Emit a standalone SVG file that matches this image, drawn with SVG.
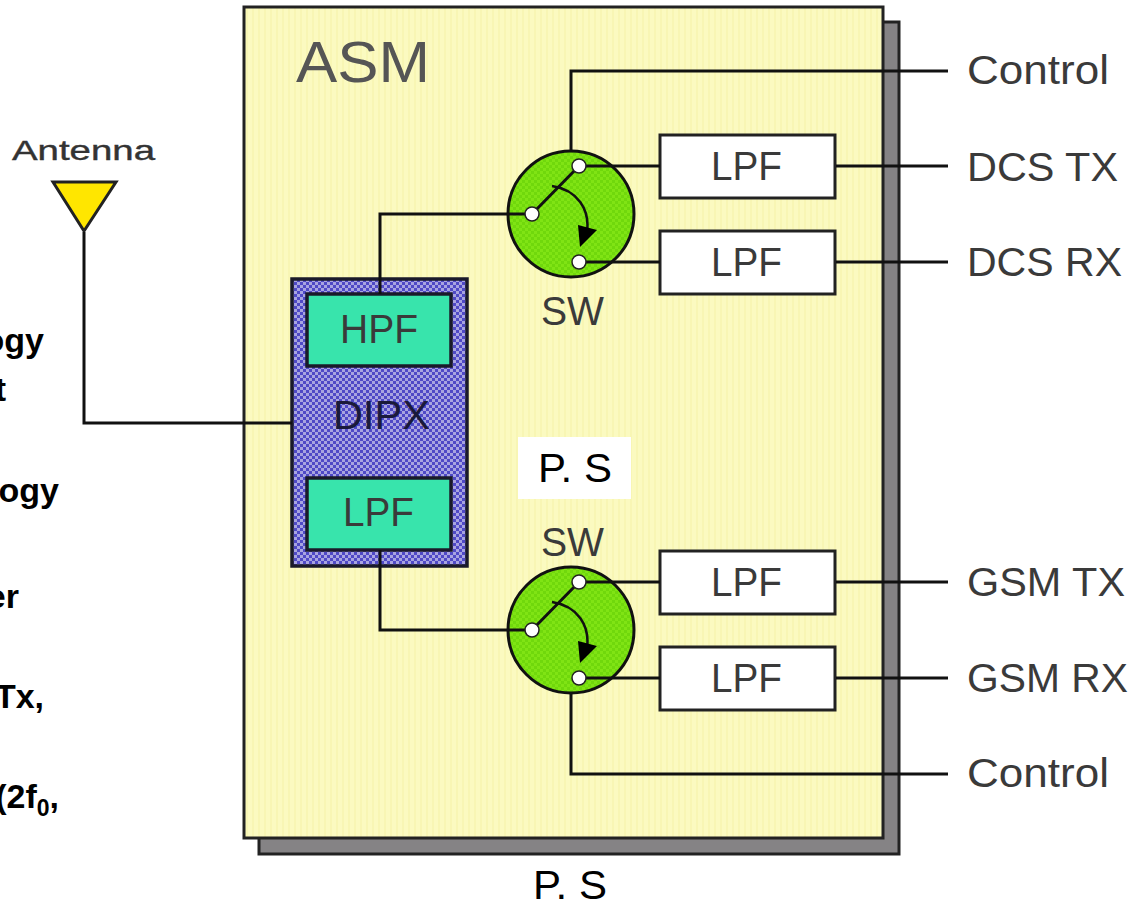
<svg xmlns="http://www.w3.org/2000/svg" width="1134" height="902" viewBox="0 0 1134 902">
<defs>
<style>
.ln{fill:none;stroke:#111;stroke-width:3}
.sans{font-family:"Liberation Sans",Arial,sans-serif}
.lb{font-family:"Liberation Sans",Arial,sans-serif;fill:#3a3a3a;font-size:41px}
.bd{font-family:"Liberation Sans",Arial,sans-serif;fill:#000;font-size:34px;font-weight:bold}
.box{fill:#fff;stroke:#222;stroke-width:3}
.cy{fill:#38e4ac;stroke:#1a1a2a;stroke-width:3.5}
.dot{fill:#fff;stroke:#222;stroke-width:1.5}
.sw{fill:url(#green);stroke:#111;stroke-width:3}
</style>
<pattern id="dither" width="6" height="6" patternUnits="userSpaceOnUse"><rect width="6" height="6" fill="#a8a4e0"/><rect x="0" y="0" width="3" height="3" fill="#4f49c6"/><rect x="3" y="3" width="3" height="3" fill="#4f49c6"/></pattern>
<pattern id="stripes" width="6" height="6" patternUnits="userSpaceOnUse"><rect width="6" height="6" fill="#fbfac0"/><rect width="2" height="6" fill="#f8f6b4"/></pattern>
<pattern id="green" width="6" height="6" patternUnits="userSpaceOnUse"><rect width="6" height="6" fill="#80e414"/><rect width="3" height="3" fill="#70d80c"/><rect x="3" y="3" width="3" height="3" fill="#70d80c"/></pattern>
</defs>
<g id="shadow"><rect x="259" y="22" width="640" height="832" fill="#858385" stroke="#222" stroke-width="3"/></g>
<g id="asm"><rect x="244" y="7" width="639" height="831" fill="url(#stripes)" stroke="#222" stroke-width="3"/><text x="296" y="82" class="lb" style="font-size:57px;fill:#555" textLength="134" lengthAdjust="spacingAndGlyphs">ASM</text></g>
<g id="antenna"><polygon points="53,182 116,182 84,231" fill="#ffe600" stroke="#222" stroke-width="3"/><text x="12" y="160" class="sans" font-size="28" fill="#333" stroke="#333" stroke-width=".4" textLength="143" lengthAdjust="spacingAndGlyphs">Antenna</text></g>
<g id="dipx"><rect x="292" y="279" width="175" height="287" fill="url(#dither)" stroke="#1a1a2a" stroke-width="3.5"/>
<rect x="307" y="294" width="144" height="72" class="cy"/><text x="340" y="343" class="lb" textLength="78" lengthAdjust="spacingAndGlyphs">HPF</text>
<text x="333" y="429" class="lb" style="fill:#1a1a3a" textLength="97" lengthAdjust="spacingAndGlyphs">DIPX</text>
<rect x="307" y="478" width="144" height="72" class="cy"/><text x="343" y="526" class="lb" textLength="71" lengthAdjust="spacingAndGlyphs">LPF</text></g>
<g id="sw1"><circle cx="571" cy="214" r="63" class="sw"/><text x="541" y="325" class="lb" textLength="63" lengthAdjust="spacingAndGlyphs">SW</text></g>
<g id="sw2"><circle cx="571" cy="630" r="63" class="sw"/><text x="541" y="556" class="lb" textLength="63" lengthAdjust="spacingAndGlyphs">SW</text></g>
<g id="lpf1"><rect x="660" y="135" width="175" height="63" class="box"/><text x="711" y="180" class="lb" textLength="71" lengthAdjust="spacingAndGlyphs">LPF</text></g>
<g id="lpf2"><rect x="660" y="231" width="175" height="63" class="box"/><text x="711" y="276" class="lb" textLength="71" lengthAdjust="spacingAndGlyphs">LPF</text></g>
<g id="lpf3"><rect x="660" y="551" width="175" height="63" class="box"/><text x="711" y="596" class="lb" textLength="71" lengthAdjust="spacingAndGlyphs">LPF</text></g>
<g id="lpf4"><rect x="660" y="647" width="175" height="63" class="box"/><text x="711" y="692" class="lb" textLength="71" lengthAdjust="spacingAndGlyphs">LPF</text></g>
<g id="connectors">
<path class="ln" d="M84 232V423H292"/>
<path class="ln" d="M380 294V214H532"/>
<path class="ln" d="M380 550V630H532"/>
<path class="ln" d="M571 150V71H948"/>
<path class="ln" d="M571 693V774H948"/>
<path class="ln" d="M579 166H660M836 166H948"/>
<path class="ln" d="M579 262H660M836 262H948"/>
<path class="ln" d="M579 582H660M836 582H948"/>
<path class="ln" d="M579 678H660M836 678H948"/>
<path class="ln" d="M532 214L579 166M532 630L579 582"/>
<path class="ln" style="stroke-width:2.5" d="M552 186C578 190 590 210 587 232M552 602C578 606 590 626 587 648"/>
<polygon points="578,225 597,230 580,247" fill="#000"/>
<polygon points="578,641 597,646 580,663" fill="#000"/>
</g>
<g id="terminals">
<circle cx="532" cy="214" r="7" class="dot"/><circle cx="579" cy="166" r="7" class="dot"/><circle cx="579" cy="262" r="7" class="dot"/>
<circle cx="532" cy="630" r="7" class="dot"/><circle cx="579" cy="582" r="7" class="dot"/><circle cx="579" cy="678" r="7" class="dot"/>
</g>
<g id="labels">
<text x="967" y="84" class="lb" textLength="142" lengthAdjust="spacingAndGlyphs">Control</text>
<text x="967" y="181" class="lb" textLength="151" lengthAdjust="spacingAndGlyphs">DCS TX</text>
<text x="967" y="276" class="lb" textLength="155" lengthAdjust="spacingAndGlyphs">DCS RX</text>
<text x="967" y="596" class="lb" textLength="158" lengthAdjust="spacingAndGlyphs">GSM TX</text>
<text x="967" y="692" class="lb" textLength="161" lengthAdjust="spacingAndGlyphs">GSM RX</text>
<text x="967" y="787" class="lb" textLength="142" lengthAdjust="spacingAndGlyphs">Control</text>
</g>
<g id="ps1"><rect x="518" y="437" width="113" height="62" fill="#fff"/><text x="538" y="482" class="sans" font-size="41" fill="#000" textLength="74" lengthAdjust="spacingAndGlyphs">P. S</text></g>
<g id="ps2"><rect x="513" y="856" width="113" height="46" fill="#fff"/><text x="533" y="899" class="sans" font-size="41" fill="#000" textLength="74" lengthAdjust="spacingAndGlyphs">P. S</text></g>
<g id="clipped">
<text x="44" y="352" text-anchor="end" class="bd">ogy</text>
<text x="6" y="401" text-anchor="end" class="bd">t</text>
<text x="59" y="502" text-anchor="end" class="bd">ogy</text>
<text x="19" y="608" text-anchor="end" class="bd">er</text>
<text x="44" y="708" text-anchor="end" class="bd">Tx,</text>
<text x="59" y="808" text-anchor="end" class="bd">(2f<tspan font-size="23" dy="8">0</tspan><tspan dy="-8">,</tspan></text>
</g>
</svg>
